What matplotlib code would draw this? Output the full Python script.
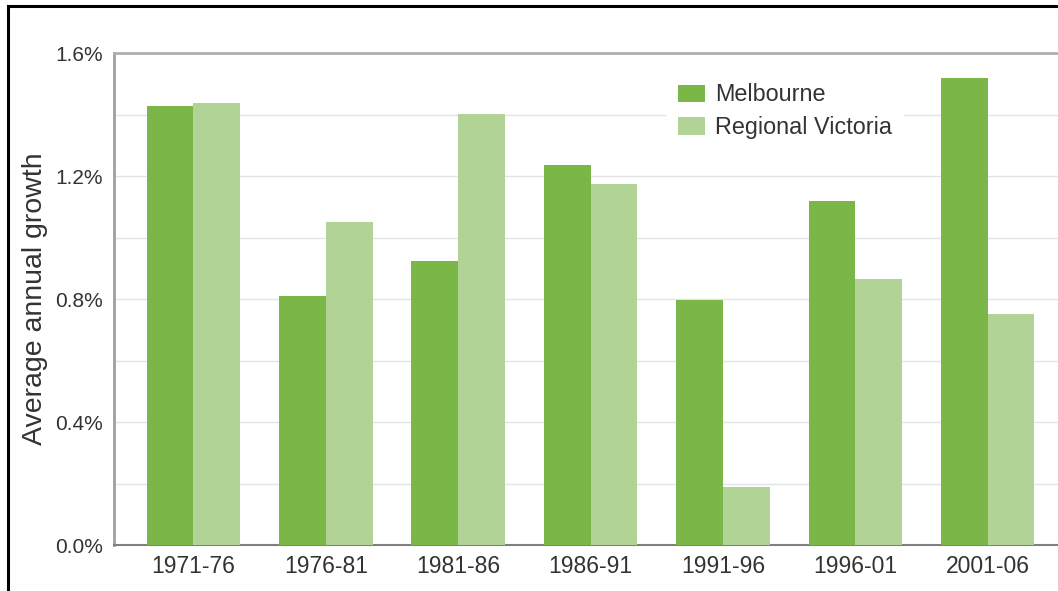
import matplotlib
matplotlib.use("Agg")
import matplotlib.pyplot as plt
from matplotlib.lines import Line2D
from matplotlib.ticker import FuncFormatter, MultipleLocator
import numpy as np

plt.rcParams['font.family'] = ['Liberation Sans', 'DejaVu Sans']

# ----------------- Data -----------------
periods = ["1971-76", "1976-81", "1981-86", "1986-91", "1991-96", "1996-01", "2001-06"]
melbourne = [1.427, 0.81, 0.924, 1.235, 0.797, 1.118, 1.519]
regional_vic = [1.439, 1.051, 1.401, 1.174, 0.19, 0.866, 0.751]

melb_color = "#7ab648"
reg_color = "#b1d395"
text_color = "#333333"

# ----------------- Figure -----------------
fig = plt.figure(figsize=(10.58, 5.91), dpi=100)
ax = fig.add_axes([0.1078, 0.0778, 0.8922, 0.8325])

x = np.arange(len(periods))
w = 0.353
ax.bar(x - w / 2, melbourne, w, color=melb_color, label="Melbourne", zorder=3)
ax.bar(x + w / 2, regional_vic, w, color=reg_color, label="Regional Victoria", zorder=3)

ax.set_xlim(-0.6, 6.531)
ax.set_ylim(0, 1.6)
ax.yaxis.set_major_locator(MultipleLocator(0.4))
ax.yaxis.set_minor_locator(MultipleLocator(0.2))
ax.yaxis.set_major_formatter(FuncFormatter(lambda v, p: f"{v:.1f}%"))
ax.grid(axis="y", which="both", color="#e4e4e4", linewidth=1, zorder=0)

ax.set_xticks(x)
ax.set_xticklabels(periods)
ax.tick_params(axis="x", length=0, pad=7, labelsize=16.5, labelcolor=text_color)
ax.tick_params(axis="y", which="both", length=0, pad=8, labelsize=15, labelcolor=text_color)

ax.set_ylabel("Average annual growth", fontsize=20.5, color=text_color, labelpad=5)

ax.spines["right"].set_visible(False)
ax.spines["top"].set_color("#b0b0b0")
ax.spines["top"].set_linewidth(2)
ax.spines["left"].set_color("#a0a0a0")
ax.spines["left"].set_linewidth(2)
ax.spines["bottom"].set_color("#808080")
ax.spines["bottom"].set_linewidth(1.5)

leg = ax.legend(loc="upper left", bbox_to_anchor=(0.585, 0.962), fontsize=16.8,
                frameon=True, facecolor="white", edgecolor="none", framealpha=1,
                handlelength=1.15, handleheight=0.75, handletextpad=0.45,
                labelspacing=0.42, borderpad=0.5, borderaxespad=0)
for t in leg.get_texts():
    t.set_color(text_color)

# black frame around the panel
fig.add_artist(Line2D([8 / 1058, 8 / 1058], [0, 1 - 6 / 591], color="black",
                      linewidth=2.2, transform=fig.transFigure))
fig.add_artist(Line2D([8 / 1058, 1], [1 - 6 / 591, 1 - 6 / 591], color="black",
                      linewidth=2.2, transform=fig.transFigure))

fig.savefig("out.png", dpi=100)
